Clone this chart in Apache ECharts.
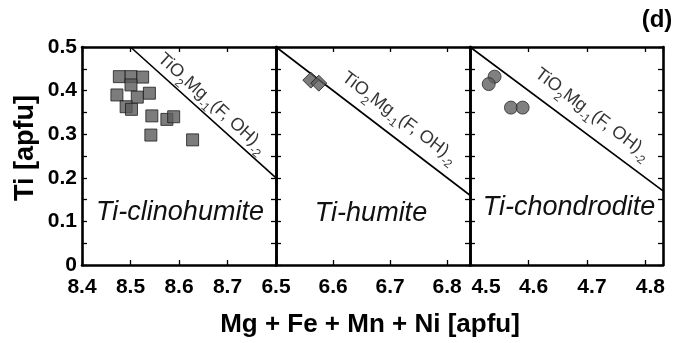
<!DOCTYPE html>
<html>
<head>
<meta charset="utf-8">
<script src="https://cdn.jsdelivr.net/npm/echarts@6/dist/echarts.min.js"></script>
<style>
  html, body { margin: 0; padding: 0; background: #fff; }
  #chart { width: 679px; height: 343px; }
</style>
</head>
<body>
<div id="chart"></div>
<script>
// Ti versus octahedral cations (Mg + Fe + Mn + Ni) for the three humite-group phases
const clinoM  = [8.477, 8.501, 8.525, 8.501, 8.472, 8.514, 8.539, 8.491, 8.502, 8.544, 8.575, 8.589, 8.542, 8.628];
const clinoTi = [0.432, 0.432, 0.431, 0.413, 0.390, 0.385, 0.394, 0.363, 0.357, 0.342, 0.334, 0.340, 0.298, 0.287];

const humiteM  = [6.561, 6.575];
const humiteTi = [0.424, 0.417];

const chondroM  = [4.542, 4.532, 4.570, 4.590];
const chondroTi = [0.432, 0.415, 0.361, 0.361];

// TiO2Mg-1(F,OH)-2 substitution vector drawn in each panel (end points)
const clinoVector   = [[8.5, 0.5], [8.8, 0.2]];
const humiteVector  = [[6.5, 0.5], [6.84, 0.16]];
const chondroVector = [[4.5, 0.5], [4.83, 0.17]];

// axis extents per panel
const xMin = [8.4, 6.5, 4.5];
const xMax = [8.8, 6.84, 4.83];
const yTicks = [0, 0.1, 0.2, 0.3, 0.4, 0.5];

const panelNames = ['Ti-clinohumite', 'Ti-humite', 'Ti-chondrodite'];

// anchor of the rotated vector label in each panel (data units) and its angle
const vectorLabelAt = [[8.665, 0.367], [6.714, 0.333], [4.707, 0.342]];
const vectorLabelAngle = [-42, -37, -37];

const FONT = '"Liberation Sans", Arial, Helvetica, sans-serif';
const chart = echarts.init(document.getElementById('chart'));

const grids = [
  { left: 82,  top: 47, width: 194, height: 218 },
  { left: 276, top: 47, width: 194, height: 218 },
  { left: 470, top: 47, width: 193, height: 218 }
];

const frameLine = { show: true, onZero: false, lineStyle: { color: '#000', width: 2.6 } };
const inTick = { show: true, inside: true, length: 5, lineStyle: { color: '#000', width: 1.3 } };

const xAxes = [];
const yAxes = [];
for (let i = 0; i < 3; i++) {
  const shift = i === 2 ? [0, 0, 0, 10] : [0, 0, 0, 0];
  xAxes.push({
    type: 'value', gridIndex: i, position: 'bottom',
    min: xMin[i], max: xMax[i], interval: 0.1,
    axisLine: frameLine, axisTick: inTick, splitLine: { show: false },
    axisLabel: {
      show: true, margin: 12, showMaxLabel: false,
      color: '#000', fontFamily: FONT, fontWeight: 'bold', fontSize: 21,
      padding: shift,
      formatter: (v) => {
        const s = v.toFixed(1);
        return (i === 2 && s === '4.5') ? '{p|' + s + '}' : s;
      },
      rich: { p: { fontFamily: FONT, fontWeight: 'bold', fontSize: 21, color: '#000', padding: [0, 0, 0, 22] } }
    }
  });
  xAxes.push({
    type: 'value', gridIndex: i, position: 'top',
    min: xMin[i], max: xMax[i], interval: 0.1,
    axisLine: frameLine, axisTick: inTick, axisLabel: { show: false }, splitLine: { show: false }
  });
  yAxes.push({
    type: 'value', gridIndex: i, position: 'left',
    min: 0, max: 0.5, interval: 0.1,
    axisLine: frameLine, axisTick: inTick,
    minorTick: { show: true, splitNumber: 2, length: 5, lineStyle: { color: '#000', width: 1.3 } },
    splitLine: { show: false }, minorSplitLine: { show: false },
    axisLabel: {
      show: i === 0, margin: 5, color: '#000', fontFamily: FONT, fontWeight: 'bold', fontSize: 21,
      formatter: (v) => yTicks.includes(+v.toFixed(1)) ? String(+v.toFixed(1)) : ''
    }
  });
  yAxes.push({
    type: 'value', gridIndex: i, position: 'right',
    min: 0, max: 0.5, interval: 0.1,
    axisLine: frameLine, axisTick: inTick,
    minorTick: { show: true, splitNumber: 2, length: 5, lineStyle: { color: '#000', width: 1.3 } },
    splitLine: { show: false }, axisLabel: { show: false }
  });
}

const zip = (a, b) => a.map((v, k) => [v, b[k]]);
const vectors = [clinoVector, humiteVector, chondroVector];

const vectorRich = {
  m: { fontFamily: FONT, fontSize: 18, color: '#000', lineHeight: 23, verticalAlign: 'top' },
  s: { fontFamily: FONT, fontSize: 12, color: '#000', lineHeight: 13, verticalAlign: 'bottom' }
};

const series = [];
for (let i = 0; i < 3; i++) {
  series.push({
    type: 'line', xAxisIndex: 2 * i, yAxisIndex: 2 * i,
    data: vectors[i], symbol: 'none', silent: true,
    lineStyle: { color: '#000', width: 1.6 }, z: 2
  });
  series.push({
    type: 'scatter', xAxisIndex: 2 * i, yAxisIndex: 2 * i,
    data: [vectorLabelAt[i]], symbolSize: 0, silent: true, z: 3,
    label: {
      show: true, position: 'inside', rotate: vectorLabelAngle[i],
      formatter: '{m|TiO}{s|2}{m|Mg}{s|-1}{m|(F, OH)}{s|-2}',
      rich: vectorRich
    }
  });
}

const markerStyle = { color: '#5b5b5b', borderColor: '#1e1e1e', borderWidth: 1 };
series.push({
  name: 'Ti-clinohumite', type: 'scatter', xAxisIndex: 0, yAxisIndex: 0,
  data: zip(clinoM, clinoTi), symbol: 'rect', symbolSize: 12, itemStyle: markerStyle, z: 4
});
series.push({
  name: 'Ti-humite', type: 'scatter', xAxisIndex: 2, yAxisIndex: 2,
  data: zip(humiteM, humiteTi), symbol: 'diamond', symbolSize: 16, itemStyle: markerStyle, z: 4
});
series.push({
  name: 'Ti-chondrodite', type: 'scatter', xAxisIndex: 4, yAxisIndex: 4,
  data: zip(chondroM, chondroTi), symbol: 'circle', symbolSize: 13,
  itemStyle: { color: '#606060', borderColor: '#2a2a2a', borderWidth: 1 }, z: 4
});

const panelLabelPos = [[180, 212], [371, 213], [569, 207]];
const graphic = panelNames.map((name, i) => ({
  type: 'text', x: panelLabelPos[i][0], y: panelLabelPos[i][1], z: 10,
  style: {
    text: name, fontFamily: FONT, fontStyle: 'italic', fontSize: 27,
    fill: '#111', align: 'center', verticalAlign: 'middle'
  }
}));
graphic.push({
  type: 'text', x: 26, y: 148, rotation: Math.PI / 2, z: 10,
  style: { text: 'Ti [apfu]', fontFamily: FONT, fontWeight: 'bold', fontSize: 27, fill: '#000', align: 'center', verticalAlign: 'middle' }
});
graphic.push({
  type: 'text', x: 370, y: 325, z: 10,
  style: { text: 'Mg + Fe + Mn + Ni [apfu]', fontFamily: FONT, fontWeight: 'bold', fontSize: 26, fill: '#000', align: 'center', verticalAlign: 'middle' }
});
graphic.push({
  type: 'text', x: 657, y: 20, z: 10,
  style: { text: '(d)', fontFamily: FONT, fontWeight: 'bold', fontSize: 24, fill: '#000', align: 'center', verticalAlign: 'middle' }
});

chart.setOption({
  backgroundColor: '#fff',
  animation: false,
  grid: grids,
  xAxis: xAxes,
  yAxis: yAxes,
  series: series,
  graphic: graphic
});
</script>
</body>
</html>
